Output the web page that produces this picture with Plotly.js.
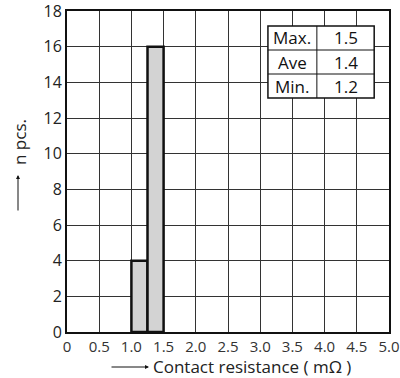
<!DOCTYPE html>
<html><head><meta charset="utf-8">
<script src="https://cdn.plot.ly/plotly-3.0.1.min.js"></script>
<style>body{margin:0;background:#fff}#c{width:400px;height:378px}</style>
</head><body><div id="c"></div>
<script>
const binStarts = [1.0, 1.25];
const binWidth = 0.25;
const counts = [4, 16];
const statLabels = ["Max.", "Ave", "Min."];
const statValues = ["1.5", "1.4", "1.2"];
const xTicks = [0,0.5,1.0,1.5,2.0,2.5,3.0,3.5,4.0,4.5,5.0];
const xTickText = ["0","0.5","1.0","1.5","2.0","2.5","3.0","3.5","4.0","4.5","5.0"];
const yTicks = [0,2,4,6,8,10,12,14,16,18];

const font = "Open Sans, Noto Sans, sans-serif";
const centers = binStarts.map(s => s + binWidth/2);

// table geometry (data coords)
const tx0 = 3.12, tx1 = 3.88, tx2 = 4.77;
const ty0 = 17.16, ty1 = 13.12;
const rowH = (ty0 - ty1) / statLabels.length;

const shapes = [{type:'rect', xref:'x', yref:'y', x0:tx0, x1:tx2, y0:ty1, y1:ty0, fillcolor:'#fff', line:{color:'#111', width:1.5}, layer:'above'},
  {type:'line', xref:'x', yref:'y', x0:tx1, x1:tx1, y0:ty1, y1:ty0, line:{color:'#111', width:1}, layer:'above'}];
for (let i=1;i<statLabels.length;i++){
  shapes.push({type:'line', xref:'x', yref:'y', x0:tx0, x1:tx2, y0:ty0-i*rowH, y1:ty0-i*rowH, line:{color:'#111', width:1}, layer:'above'});
}
const annotations = [];
statLabels.forEach((l,i)=>{
  const yc = ty0 - (i+0.5)*rowH;
  annotations.push({xref:'x', yref:'y', x:(tx0+tx1)/2, y:yc, text:l, showarrow:false, font:{family:font, size:17, color:'#111'}});
  annotations.push({xref:'x', yref:'y', x:(tx1+tx2)/2, y:yc, text:statValues[i], showarrow:false, font:{family:font, size:17, color:'#111'}});
});
// x title with arrow
annotations.push({xref:'paper', yref:'paper', x:(149-67)/322, y:-(367-332)/321, text:'', showarrow:true, arrowhead:2, arrowsize:0.8, arrowwidth:1, arrowcolor:'#111', ax:-39, ay:0});
annotations.push({xref:'paper', yref:'paper', x:(151-67)/322, y:-(367-332)/321, xanchor:'left', yanchor:'middle', text:'Contact resistance ( mΩ )', showarrow:false, font:{family:font, size:17, color:'#222'}});
// y title with arrow
annotations.push({xref:'paper', yref:'paper', x:-(67-18)/322, y:(332-175)/321, text:'', showarrow:true, arrowhead:2, arrowsize:0.8, arrowwidth:1, arrowcolor:'#111', ax:0, ay:37});
annotations.push({xref:'paper', yref:'paper', x:-(67-19)/322, y:(332-142)/321, textangle:-90, xanchor:'center', yanchor:'middle', text:'n pcs.', showarrow:false, font:{family:font, size:17, color:'#222'}});

Plotly.newPlot('c', [{
  type:'bar', x:centers, y:counts, width:binStarts.map(()=>binWidth),
  marker:{color:'#d3d3d3', line:{color:'#111', width:2.5}}, hoverinfo:'skip'
}], {
  width:400, height:378, margin:{l:67, r:11, t:11, b:46},
  paper_bgcolor:'#fff', plot_bgcolor:'#fff', showlegend:false,
  xaxis:{range:[0,5], tickvals:xTicks, ticktext:xTickText, showgrid:true, gridcolor:'#333', gridwidth:1,
    showline:true, linecolor:'#111', linewidth:2, mirror:true, ticks:'', zeroline:false,
    ticklabeloverflow:'allow', tickfont:{family:font, size:15, color:'#333'}},
  yaxis:{range:[0,18], tickvals:yTicks, showgrid:true, gridcolor:'#333', gridwidth:1,
    showline:true, linecolor:'#111', linewidth:2, mirror:true, ticks:'', zeroline:false,
    ticklabeloverflow:'allow', tickfont:{family:font, size:16, color:'#222'}},
  shapes:shapes, annotations:annotations, bargap:0
}, {staticPlot:true});
</script></body></html>
